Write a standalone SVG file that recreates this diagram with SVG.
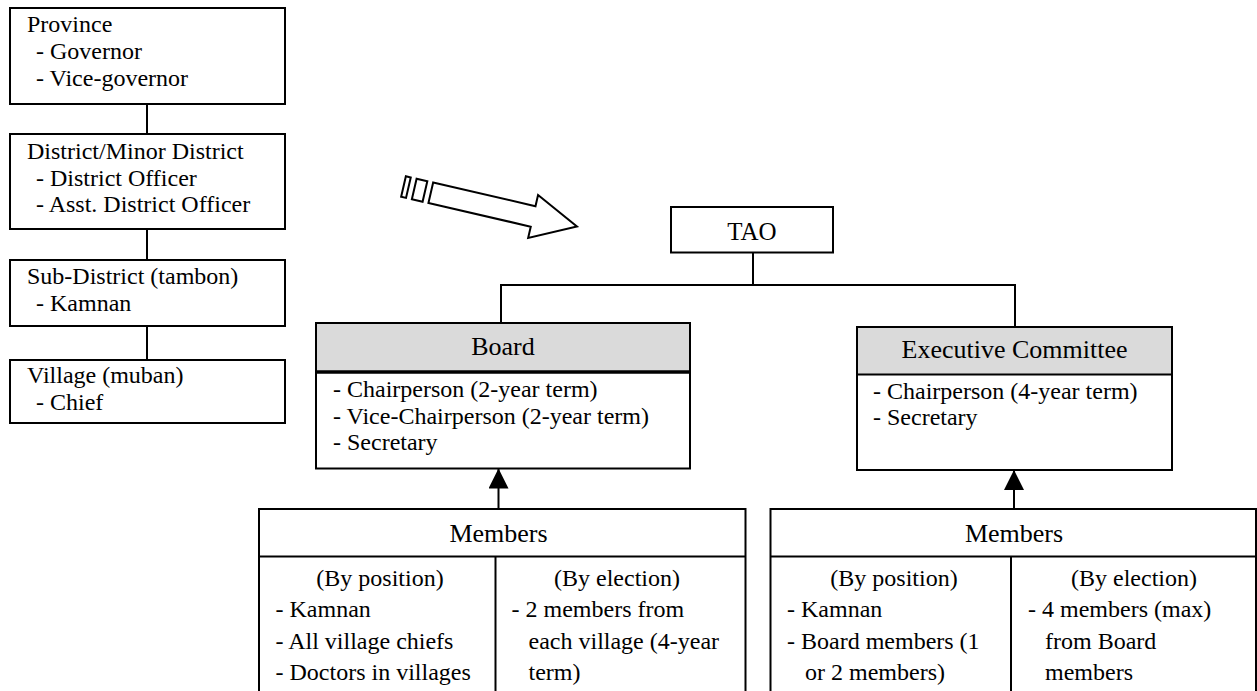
<svg xmlns="http://www.w3.org/2000/svg" width="1257" height="691" viewBox="0 0 1257 691">
  <style>
    .box { fill: #ffffff; stroke: #000000; stroke-width: 2; }
    .hdr { fill: #dadada; stroke: #000000; stroke-width: 2; }
    .ln { fill: none; stroke: #000000; stroke-width: 2; }
    text { font-family: "Liberation Serif", "Times New Roman", serif; font-size: 24px; fill: #000000; }
    .big { font-size: 26px; }
    .mid { text-anchor: middle; }
  </style>
  <defs>
    <marker id="tri" markerUnits="userSpaceOnUse" markerWidth="20" markerHeight="20" refX="20" refY="10" orient="auto">
      <path d="M0,0 L20,10 L0,20 Z" fill="#000000"/>
    </marker>
  </defs>
  <rect width="1257" height="691" fill="#ffffff"/>

  <!-- connectors -->
  <g id="connectors">
    <line class="ln" x1="147" y1="104" x2="147" y2="134"/>
    <line class="ln" x1="147" y1="229" x2="147" y2="260"/>
    <line class="ln" x1="147" y1="326" x2="147" y2="360"/>
    <polyline class="ln" points="753,252 753,285"/>
    <polyline class="ln" points="501,323 501,285 1015,285 1015,327"/>
    <line class="ln" x1="498.5" y1="509" x2="498.5" y2="468.5" marker-end="url(#tri)"/>
    <line class="ln" x1="1014" y1="509" x2="1014" y2="470" marker-end="url(#tri)"/>
  </g>

  <!-- administrative hierarchy -->
  <g id="province">
    <rect class="box" x="10" y="8" width="275" height="96"/>
    <text x="27" y="32">Province</text>
    <text x="36" y="59">- Governor</text>
    <text x="36" y="86">- Vice-governor</text>
  </g>
  <g id="district">
    <rect class="box" x="10" y="134" width="275" height="95"/>
    <text x="27" y="159">District/Minor District</text>
    <text x="36" y="185.5">- District Officer</text>
    <text x="36" y="212">- Asst. District Officer</text>
  </g>
  <g id="subdistrict">
    <rect class="box" x="10" y="260" width="275" height="66"/>
    <text x="27" y="284">Sub-District (tambon)</text>
    <text x="36" y="311">- Kamnan</text>
  </g>
  <g id="village">
    <rect class="box" x="10" y="360" width="275" height="63"/>
    <text x="27" y="383">Village (muban)</text>
    <text x="36" y="410">- Chief</text>
  </g>

  <!-- block arrow -->
  <g id="transition-arrow" transform="translate(430.8,192.8) rotate(13)" class="ln">
    <rect x="-28" y="-10.5" width="5" height="21" fill="#ffffff"/>
    <rect x="-17" y="-10.5" width="11" height="21" fill="#ffffff"/>
    <path d="M0,-10.5 L105,-10.5 L105,-22 L150,0 L105,22 L105,10.5 L0,10.5 Z" fill="#ffffff"/>
  </g>

  <!-- TAO structure -->
  <g id="tao">
    <rect class="box" x="671" y="207" width="162" height="45.5"/>
    <text class="mid" x="752" y="239.5" style="font-size:25px">TAO</text>
  </g>
  <g id="board">
    <rect class="box" x="316" y="323" width="374" height="145.5"/>
    <rect class="hdr" x="316" y="323" width="374" height="49"/>
    <line x1="316" y1="372" x2="690" y2="372" stroke="#000000" stroke-width="3.5"/>
    <text class="mid big" x="503" y="355">Board</text>
    <text x="333" y="397">- Chairperson (2-year term)</text>
    <text x="333" y="423.5">- Vice-Chairperson (2-year term)</text>
    <text x="333" y="450">- Secretary</text>
  </g>
  <g id="executive-committee">
    <rect class="box" x="857" y="327" width="315" height="143"/>
    <rect class="hdr" x="857" y="327" width="315" height="47.5"/>
    <text class="mid big" x="1014.5" y="358">Executive Committee</text>
    <text x="873" y="398.5">- Chairperson (4-year term)</text>
    <text x="873" y="425">- Secretary</text>
  </g>

  <g id="board-members">
    <rect class="box" x="259" y="509" width="486.5" height="200"/>
    <line class="ln" x1="259" y1="556.5" x2="745.5" y2="556.5"/>
    <line class="ln" x1="495.5" y1="556.5" x2="495.5" y2="700"/>
    <text class="mid big" x="498.5" y="541.5">Members</text>
    <text class="mid" x="380" y="586">(By position)</text>
    <text x="275.5" y="617">- Kamnan</text>
    <text x="275.5" y="649">- All village chiefs</text>
    <text x="275.5" y="680">- Doctors in villages</text>
    <text class="mid" x="617" y="586">(By election)</text>
    <text x="511.5" y="617">- 2 members from</text>
    <text x="528.5" y="649">each village (4-year</text>
    <text x="528.5" y="680">term)</text>
  </g>
  <g id="committee-members">
    <rect class="box" x="770.5" y="509" width="485.5" height="200"/>
    <line class="ln" x1="770.5" y1="556.5" x2="1256" y2="556.5"/>
    <line class="ln" x1="1011" y1="556.5" x2="1011" y2="700"/>
    <text class="mid big" x="1014" y="541.5">Members</text>
    <text class="mid" x="894" y="586">(By position)</text>
    <text x="787" y="617">- Kamnan</text>
    <text x="787" y="649">- Board members (1</text>
    <text x="805" y="680">or 2 members)</text>
    <text class="mid" x="1134" y="586">(By election)</text>
    <text x="1028" y="617">- 4 members (max)</text>
    <text x="1045" y="649">from Board</text>
    <text x="1045" y="680">members</text>
  </g>
</svg>
